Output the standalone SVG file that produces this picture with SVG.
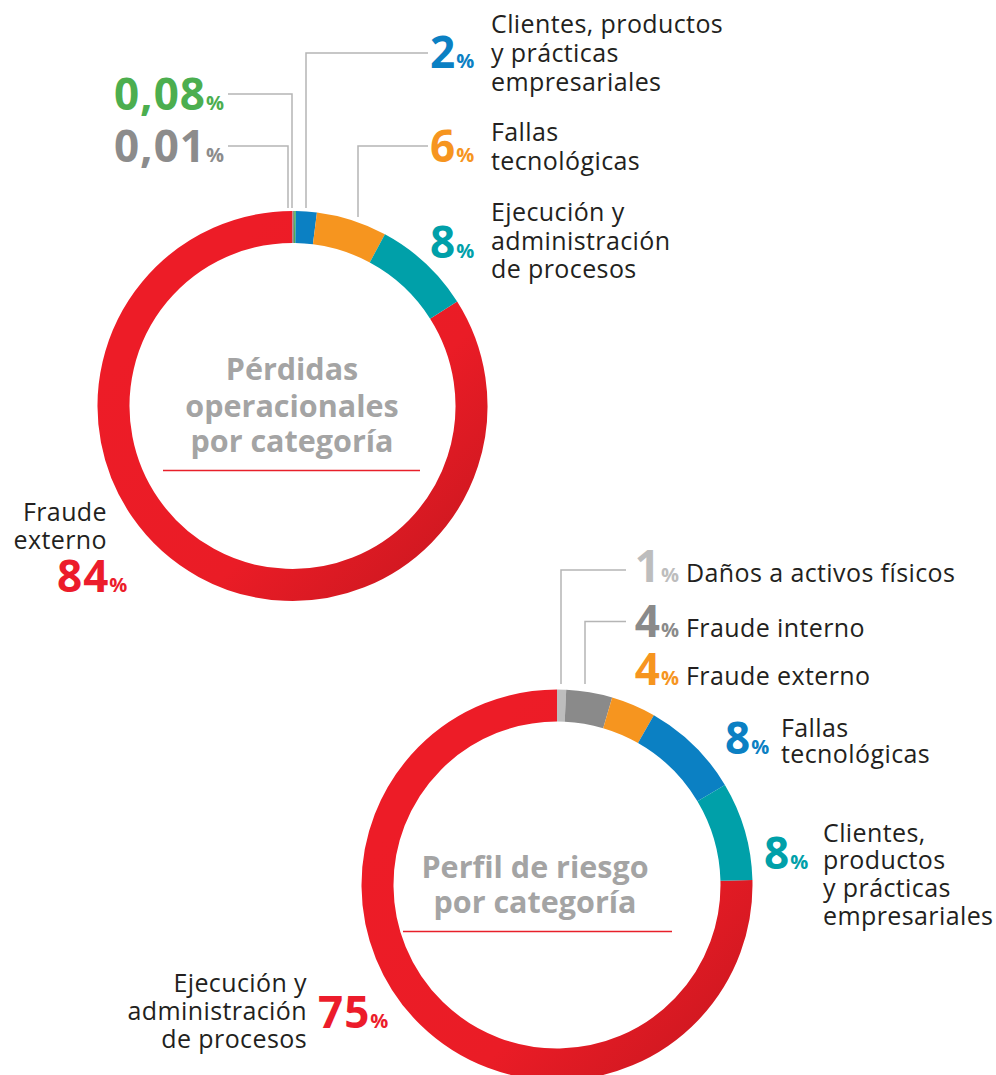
<svg xmlns="http://www.w3.org/2000/svg" width="996" height="1075" viewBox="0 0 996 1075">
<defs>
<linearGradient id="redA" gradientUnits="userSpaceOnUse" x1="180" y1="300" x2="470" y2="590">
<stop offset="0" stop-color="#ed1c27"/><stop offset="0.55" stop-color="#ea1c26"/><stop offset="1" stop-color="#c8171f"/>
</linearGradient>
<linearGradient id="redB" gradientUnits="userSpaceOnUse" x1="440" y1="780" x2="740" y2="1070">
<stop offset="0" stop-color="#ed1c27"/><stop offset="0.55" stop-color="#ea1c26"/><stop offset="1" stop-color="#c8171f"/>
</linearGradient>
<style>
.seg{fill:none;stroke-width:32}
.lbl{font-family:"Open Sans","Noto Sans","Liberation Sans",sans-serif;font-size:25px;letter-spacing:0.4px;fill:#231f20}
.num{font-family:"Open Sans","Noto Sans","Liberation Sans",sans-serif;font-weight:700;font-size:44px;letter-spacing:1px}
.pct{font-size:20px;letter-spacing:0}
.title{font-family:"Open Sans","Noto Sans","Liberation Sans",sans-serif;font-weight:700;font-size:30.5px;fill:#a4a4a4;text-anchor:middle}
.lead{fill:none;stroke:#b5b5b5;stroke-width:1.5}
.rule{stroke:#e8202a;stroke-width:1.5}
.end{text-anchor:end}
</style>
</defs>
<rect width="996" height="1075" fill="#ffffff"/>

<g id="connectors">
<path class="lead" d="M228 146 H288 V208"/>
<path class="lead" d="M228 94 H292 V208"/>
<path class="lead" d="M428 53 H306 V208"/>
<path class="lead" d="M428 146 H358 V217"/>
<path class="lead" d="M626 570 H561 V684"/>
<path class="lead" d="M626 621.5 H585 V684"/>
</g>

<g id="chart-perdidas">
<path class="seg" stroke="url(#redA)" d="M443.64 310.09 A179 179 0 1 1 292.5 227"/>
<path class="seg" stroke="#8c8c8c" d="M292.5 227 A179 179 0 0 1 294.06 227.01"/>
<path class="seg" stroke="#4cae4f" d="M294.06 227.01 A179 179 0 0 1 295.62 227.03"/>
<path class="seg" stroke="#0b80c3" d="M295.62 227.03 A179 179 0 0 1 314.93 228.41"/>
<path class="seg" stroke="#f6951f" d="M314.93 228.41 A179 179 0 0 1 377.36 248.39"/>
<path class="seg" stroke="#00a0a9" d="M377.36 248.39 A179 179 0 0 1 443.64 310.09"/>
<text class="title" x="292" y="380">Pérdidas</text>
<text class="title" x="292" y="417">operacionales</text>
<text class="title" x="292" y="452">por categoría</text>
<line class="rule" x1="163" y1="470.5" x2="420" y2="470.5"/>
</g>

<g id="top-otros-008">
<text class="num end" x="224" y="110" fill="#4cae4f">0,08<tspan class="pct">%</tspan></text>
</g>
<g id="top-otros-001">
<text class="num end" x="224" y="162" fill="#8c8c8c">0,01<tspan class="pct">%</tspan></text>
</g>
<g id="top-clientes">
<text class="num" x="430" y="68" fill="#0b80c3">2<tspan class="pct">%</tspan></text>
<text class="lbl" x="491" y="33">Clientes, productos</text>
<text class="lbl" x="491" y="62">y prácticas</text>
<text class="lbl" x="491" y="91">empresariales</text>
</g>
<g id="top-fallas">
<text class="num" x="430" y="162" fill="#f6951f">6<tspan class="pct">%</tspan></text>
<text class="lbl" x="491" y="141">Fallas</text>
<text class="lbl" x="491" y="170">tecnológicas</text>
</g>
<g id="top-ejecucion">
<text class="num" x="430" y="258" fill="#00a0a9">8<tspan class="pct">%</tspan></text>
<text class="lbl" x="491" y="221">Ejecución y</text>
<text class="lbl" x="491" y="250">administración</text>
<text class="lbl" x="491" y="278">de procesos</text>
</g>
<g id="top-fraude-externo">
<text class="lbl end" x="107" y="521">Fraude</text>
<text class="lbl end" x="107" y="549">externo</text>
<text class="num" x="57" y="592" fill="#ec1c2b">84<tspan class="pct">%</tspan></text>
</g>

<g id="chart-perfil">
<path class="seg" stroke="url(#redB)" d="M736.44 880.3 A179.5 179.5 0 1 1 557 705.5"/>
<path class="seg" stroke="#bdbdbd" d="M557 705.5 A179.5 179.5 0 0 1 565.46 705.7"/>
<path class="seg" stroke="#8a8a8a" d="M565.46 705.7 A179.5 179.5 0 0 1 607.68 712.8"/>
<path class="seg" stroke="#f6951f" d="M607.68 712.8 A179.5 179.5 0 0 1 645.94 729.08"/>
<path class="seg" stroke="#0b80c3" d="M645.94 729.08 A179.5 179.5 0 0 1 711.18 793.08"/>
<path class="seg" stroke="#00a0a9" d="M711.18 793.08 A179.5 179.5 0 0 1 736.44 880.3"/>
<text class="title" x="535" y="878">Perfil de riesgo</text>
<text class="title" x="535" y="913">por categoría</text>
<line class="rule" x1="403" y1="931.5" x2="672" y2="931.5"/>
</g>

<g id="bot-danos">
<text class="num end" x="679" y="582" fill="#bdbdbd">1<tspan class="pct">%</tspan></text>
<text class="lbl" x="686" y="582">Daños a activos físicos</text>
</g>
<g id="bot-fraude-interno">
<text class="num end" x="679" y="637" fill="#8a8a8a">4<tspan class="pct">%</tspan></text>
<text class="lbl" x="686" y="637">Fraude interno</text>
</g>
<g id="bot-fraude-externo">
<text class="num end" x="679" y="685" fill="#f6951f">4<tspan class="pct">%</tspan></text>
<text class="lbl" x="686" y="685">Fraude externo</text>
</g>
<g id="bot-fallas">
<text class="num" x="725" y="754" fill="#0b80c3">8<tspan class="pct">%</tspan></text>
<text class="lbl" x="781" y="737">Fallas</text>
<text class="lbl" x="781" y="763">tecnológicas</text>
</g>
<g id="bot-clientes">
<text class="num" x="764" y="869" fill="#00a0a9">8<tspan class="pct">%</tspan></text>
<text class="lbl" x="823" y="842">Clientes,</text>
<text class="lbl" x="823" y="869">productos</text>
<text class="lbl" x="823" y="897">y prácticas</text>
<text class="lbl" x="823" y="925">empresariales</text>
</g>
<g id="bot-ejecucion">
<text class="lbl end" x="307" y="992">Ejecución y</text>
<text class="lbl end" x="307" y="1020">administración</text>
<text class="lbl end" x="307" y="1048">de procesos</text>
<text class="num" x="318" y="1028" fill="#ec1c2b">75<tspan class="pct">%</tspan></text>
</g>
</svg>
